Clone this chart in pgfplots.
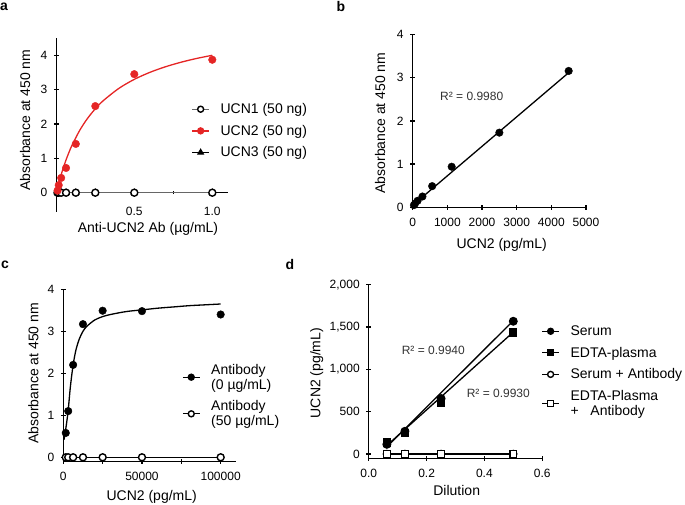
\documentclass[border=0pt]{standalone}
\usepackage{pgfplots}
\pgfplotsset{compat=1.18}
\usepackage{fontspec}
\setmainfont{Liberation Sans}
\definecolor{ucnred}{RGB}{229,37,37}
\newcommand\labfont{\fontsize{14}{16}\selectfont}
\newcommand\rfont{\fontsize{12}{14}\selectfont\color{black!80}}
\pgfplotsset{
  mystyle/.style={
    scale only axis, clip=false,
    tick style={line width=1.3pt, black},
    major tick length=5pt, minor tick length=3pt,
    tick align=outside,
    ticklabel style={font=\fontsize{12}{14}\selectfont},
    xticklabel style={yshift=-5pt},
    yticklabel style={xshift=-3pt},
    legend style={draw=none, fill=none, inner sep=0pt, outer sep=0pt,
      font=\fontsize{14}{15}\selectfont, row sep=10pt,
      nodes={inner sep=0pt}, cells={align=left},
      /tikz/every odd column/.append style={column sep=11pt}},
    legend cell align=left,
    legend image code/.code={\draw[mark repeat=2,mark phase=2,mark size=3pt,##1] plot coordinates {(0pt,0pt) (8.3pt,0pt) (16.6pt,0pt)};},
  },
  noarrows/.style={
    axis line style={-, line width=1.3pt},
    every inner x axis line/.append style={-},
    every outer x axis line/.append style={-},
    every inner y axis line/.append style={-},
    every outer y axis line/.append style={-},
    x axis line style={-}, y axis line style={-},
  },
  fc/.style={black, line width=1.3pt, mark=*, mark size=3.8pt},
  oc/.style={black, line width=1.3pt, mark=*, mark size=3.5pt, mark options={fill=white, line width=1.4pt}},
  fsq/.style={black, line width=1.3pt, mark=square*, mark size=3.5pt},
  osq/.style={black, line width=1.3pt, mark=square*, mark size=3.4pt, mark options={fill=white, line width=1.4pt}},
}
\begin{document}
\begin{tikzpicture}
\path[use as bounding box] (0pt,0pt) rectangle (685pt,505pt);

% ---------------- panel a
\begin{axis}[mystyle, at={(56.3pt,293.4pt)}, anchor=south west,
  width=171.6pt, height=173.5pt,
  xmin=0, xmax=1.1, ymin=-0.55, ymax=4.5,
  axis x line=middle, axis y line=left, noarrows,
  xtick={0.5,1}, xticklabels={0.5,1.0}, minor xtick={0.25,0.75},
  ytick={0,1,2,3,4}, yticklabels={0,1,2,3,4},
  xticklabel style={yshift=-3pt},
  legend style={at={(axis description cs:0.789,0.6236)}, anchor=north west}]
\addplot[black, line width=1.3pt, mark=triangle*, mark size=3.2pt, forget plot]
  coordinates {(0.0078,0) (0.0156,0) (0.03125,0) (0.0625,0) (0.125,0) (0.25,0) (0.5,0) (1,0)};
\addplot[black!60, line width=1.3pt, mark=*, mark size=3.5pt, mark options={fill=white, draw=black, line width=1.4pt}]
  coordinates {(0.0078,0) (0.0156,0) (0.03125,0) (0.0625,0) (0.125,0) (0.25,0) (0.5,0) (1,0)};
\addlegendentry{UCN1 (50 ng)}
\addplot[ucnred, line width=1.3pt, smooth, forget plot] coordinates {
 (0.005,0.09) (0.01,0.181) (0.02,0.350) (0.04,0.655) (0.06,0.924) (0.08,1.161) (0.1,1.373)
 (0.15,1.814) (0.2,2.162) (0.25,2.442) (0.3,2.674) (0.4,3.033) (0.5,3.299) (0.6,3.503)
 (0.7,3.666) (0.8,3.798) (0.9,3.908) (1.0,4.0)};
\addplot[ucnred, only marks, mark=*, mark size=3.8pt, forget plot] coordinates {
 (0.0078,0.06) (0.0156,0.22) (0.03125,0.43) (0.0625,0.72) (0.125,1.42) (0.25,2.52) (0.5,3.45) (1.0,3.87)};
\addlegendimage{ucnred, line width=1.3pt, mark=*}
\addlegendentry{UCN2 (50 ng)}
\addlegendimage{black, line width=1.3pt, mark=triangle*}
\addlegendentry{UCN3 (50 ng)}
\end{axis}
\node[rotate=90, font=\labfont] at (25pt,385pt) {Absorbance at 450 nm};
\node[font=\labfont] at (148pt,276pt) {Anti-UCN2 Ab (µg/mL)};

% ---------------- panel b
\begin{axis}[mystyle, at={(412.7pt,297.7pt)}, anchor=south west,
  width=173.3pt, height=172.6pt,
  xmin=0, xmax=5000, ymin=0, ymax=4, axis lines=left, noarrows,
  xtick={0,1000,2000,3000,4000,5000}, xticklabels={0,1000,2000,3000,4000,5000},
  ytick={0,1,2,3,4}, yticklabels={0,1,2,3,4}]
\addplot[black, line width=1.3pt] coordinates {(20,0.06) (4500,3.12)};
\addplot[black, only marks, mark=*, mark size=3.8pt] coordinates {
 (35,0.05) (70,0.09) (140,0.15) (281,0.25) (562,0.49) (1125,0.94) (2500,1.73) (4500,3.16)};
\end{axis}
\node[rotate=90, font=\labfont] at (380pt,382pt) {Absorbance at 450 nm};
\node[font=\labfont] at (501.7pt,260pt) {UCN2 (pg/mL)};
\node[font=\rfont] at (471.7pt,408.3pt) {R² = 0.9980};

% ---------------- panel c
\begin{axis}[mystyle, at={(63.3pt,43.5pt)}, anchor=south west,
  width=173.1pt, height=172.2pt,
  xmin=0, xmax=110000, ymin=-0.1, ymax=4, axis lines=left, noarrows,
  scaled x ticks=false,
  xtick={0,25000,50000,75000,100000}, xticklabels={0,,50000,,100000},
  ytick={0,1,2,3,4}, yticklabels={0,1,2,3,4},
  legend style={at={(axis description cs:0.6875,0.567)}, anchor=north west}]
\addplot[black, line width=1.3pt, smooth, forget plot] coordinates {
 (500,0.42) (1500,0.66) (3000,1.08) (4500,1.68) (6250,2.2) (8000,2.55) (10000,2.8)
 (12500,3.0) (15000,3.12) (20000,3.27) (25000,3.35) (30000,3.40) (40000,3.47)
 (50000,3.51) (60000,3.55) (70000,3.58) (80000,3.61) (90000,3.63) (100000,3.65)};
\addplot[black, only marks, mark=*, mark size=3.8pt, forget plot] coordinates {
 (1563,0.58) (3125,1.1) (6250,2.2) (12500,3.17) (25000,3.49) (50000,3.48) (100000,3.40)};
\addplot[black, line width=1.3pt, forget plot] coordinates {(500,-0.01) (100000,-0.01)};
\addplot[oc, only marks, forget plot] coordinates {
 (1563,0) (3125,0) (6250,0) (12500,0) (25000,0) (50000,0) (100000,0)};
\addlegendimage{fc}
\addlegendentry{Antibody\\(0 µg/mL)}
\addlegendimage{oc}
\addlegendentry{Antibody\\(50 µg/mL)}
\end{axis}
\node[rotate=90, font=\labfont] at (33.3pt,131.7pt) {Absorbance at 450 nm};
\node[font=\labfont] at (151.7pt,8.3pt) {UCN2 (pg/mL)};

% ---------------- panel d
\begin{axis}[mystyle, at={(368.8pt,46.8pt)}, anchor=south west,
  width=173.4pt, height=173.5pt,
  xmin=0, xmax=0.6, ymin=-50, ymax=2000, axis lines=left, noarrows,
  xtick={0,0.2,0.4,0.6}, xticklabels={0.0,0.2,0.4,0.6},
  ytick={0,500,1000,1500,2000}, yticklabels={0,500,{1,000},{1,500},{2,000}},
  legend style={at={(axis description cs:0.997,0.764)}, anchor=north west}]
\addplot[black, line width=1.3pt, forget plot] coordinates {(0.0625,85) (0.5,1575)};
\addplot[black, line width=1.3pt, forget plot] coordinates {(0.0625,100) (0.5,1440)};
\addplot[fc, only marks, forget plot] coordinates {(0.0625,114) (0.125,268) (0.25,655) (0.5,1568)};
\addplot[fsq, only marks, forget plot] coordinates {(0.0625,134) (0.125,248) (0.25,603) (0.5,1436)};
\addplot[oc, forget plot] coordinates {(0.0625,0) (0.125,0) (0.25,0) (0.5,0)};
\addplot[osq, forget plot] coordinates {(0.0625,0) (0.125,0) (0.25,0) (0.5,0)};
\addlegendimage{fc}
\addlegendentry{Serum}
\addlegendimage{fsq}
\addlegendentry{EDTA-plasma}
\addlegendimage{oc}
\addlegendentry{Serum + Antibody}
\addlegendimage{osq}
\addlegendentry{EDTA-Plasma\\+~~~Antibody}
\end{axis}
\node[rotate=90, font=\labfont] at (316.7pt,132pt) {UCN2 (pg/mL)};
\node[font=\labfont] at (456.7pt,14.3pt) {Dilution};
\node[font=\rfont] at (433.3pt,155pt) {R² = 0.9940};
\node[font=\rfont] at (498.3pt,111.7pt) {R² = 0.9930};

% panel letters
\node[font=\fontsize{14}{16}\selectfont\bfseries] at (4pt,498pt) {a};
\node[font=\fontsize{14}{16}\selectfont\bfseries] at (341pt,498pt) {b};
\node[font=\fontsize{14}{16}\selectfont\bfseries] at (5pt,240pt) {c};
\node[font=\fontsize{14}{16}\selectfont\bfseries] at (290pt,240pt) {d};
\end{tikzpicture}
\end{document}
